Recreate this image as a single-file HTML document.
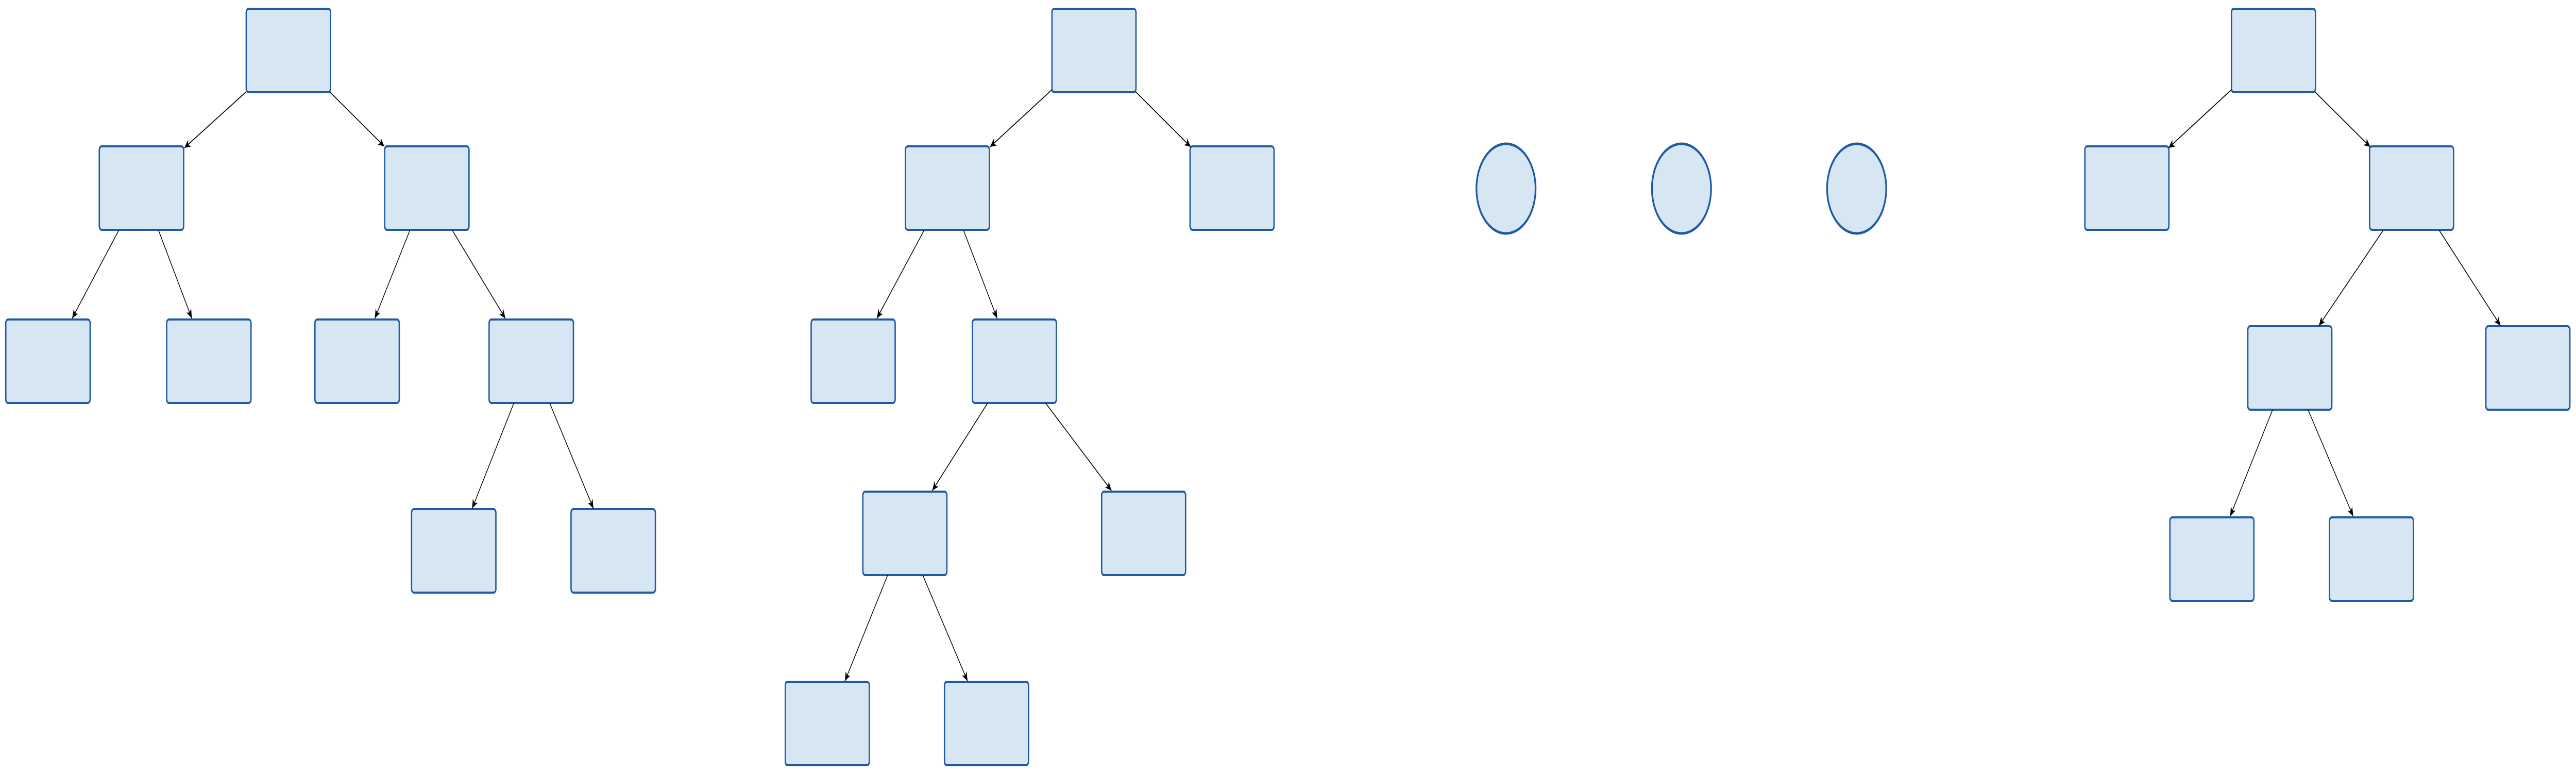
<!DOCTYPE html>
<html><head><meta charset="utf-8"><style>html,body{margin:0;padding:0;background:#fff;overflow:hidden;width:100%;height:100%}svg{display:block;width:100vw;height:100vh}</style></head>
<body>
<svg viewBox="0 0 7574 1502" preserveAspectRatio="none" xmlns="http://www.w3.org/2000/svg">
<defs>
<marker id="a" markerUnits="userSpaceOnUse" markerWidth="24" markerHeight="20" refX="18" refY="8" orient="auto">
<path d="M0,0 L18,8 L0,16 L5,8 Z" fill="#000"/>
</marker>
</defs>
<g fill="#d6e6f3" stroke="#1f5aa3" stroke-width="4">
<rect x="724" y="17" width="248" height="162" rx="7"/>
<rect x="292" y="284" width="248" height="162" rx="7"/>
<rect x="1131" y="284" width="248" height="162" rx="7"/>
<rect x="17" y="620" width="248" height="162" rx="7"/>
<rect x="490" y="620" width="248" height="162" rx="7"/>
<rect x="926" y="620" width="248" height="162" rx="7"/>
<rect x="1438" y="620" width="248" height="162" rx="7"/>
<rect x="1210" y="988" width="248" height="162" rx="7"/>
<rect x="1679" y="988" width="248" height="162" rx="7"/>
<rect x="3093" y="17" width="247" height="162" rx="7"/>
<rect x="2662" y="284" width="247" height="162" rx="7"/>
<rect x="3499" y="284" width="247" height="162" rx="7"/>
<rect x="2385" y="620" width="247" height="162" rx="7"/>
<rect x="2859" y="620" width="247" height="162" rx="7"/>
<rect x="2537" y="954" width="247" height="162" rx="7"/>
<rect x="3239" y="954" width="247" height="162" rx="7"/>
<rect x="2309" y="1323" width="247" height="162" rx="7"/>
<rect x="2777" y="1323" width="247" height="162" rx="7"/>
<circle cx="4428" cy="366" r="87" stroke-width="5"/>
<circle cx="4944" cy="366" r="87" stroke-width="5"/>
<circle cx="5459" cy="366" r="87" stroke-width="5"/>
<rect x="6561" y="17" width="247" height="162" rx="7"/>
<rect x="6130" y="284" width="247" height="162" rx="7"/>
<rect x="6967" y="284" width="247" height="162" rx="7"/>
<rect x="6609" y="633" width="247" height="162" rx="7"/>
<rect x="7309" y="633" width="247" height="162" rx="7"/>
<rect x="6380" y="1004" width="247" height="162" rx="7"/>
<rect x="6849" y="1004" width="247" height="162" rx="7"/>
</g>
<g stroke="#000" stroke-width="2" fill="none" marker-end="url(#a)">
<line x1="724" y1="178" x2="542" y2="287"/>
<line x1="969" y1="178" x2="1130" y2="284"/>
<line x1="349" y1="447" x2="212" y2="618"/>
<line x1="466" y1="447" x2="564" y2="618"/>
<line x1="1205" y1="447" x2="1102" y2="618"/>
<line x1="1330" y1="447" x2="1486" y2="618"/>
<line x1="1511" y1="782" x2="1388" y2="987"/>
<line x1="1616" y1="782" x2="1745" y2="987"/>
<line x1="3093" y1="174" x2="2911" y2="285"/>
<line x1="3339" y1="178" x2="3501" y2="285"/>
<line x1="2717" y1="447" x2="2578" y2="618"/>
<line x1="2833" y1="447" x2="2932" y2="618"/>
<line x1="2904" y1="782" x2="2741" y2="952"/>
<line x1="3074" y1="782" x2="3268" y2="952"/>
<line x1="2610" y1="1116" x2="2484" y2="1322"/>
<line x1="2713" y1="1116" x2="2845" y2="1322"/>
<line x1="6561" y1="174" x2="6376" y2="287"/>
<line x1="6806" y1="178" x2="6969" y2="285"/>
<line x1="7007" y1="447" x2="6818" y2="632"/>
<line x1="7172" y1="447" x2="7352" y2="632"/>
<line x1="6682" y1="795" x2="6557" y2="1002"/>
<line x1="6786" y1="795" x2="6919" y2="1002"/>
</g>
</svg>
</body></html>
